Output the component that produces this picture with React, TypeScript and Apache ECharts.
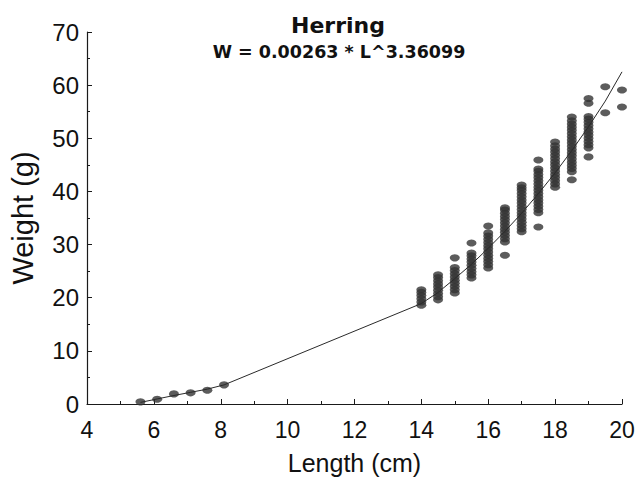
import React, { useEffect, useRef } from "react";
import * as echarts from "echarts";

// Fitted curve points (Length cm, Weight g) as drawn
const fitLengths = [5.6, 6.1, 6.6, 7.1, 7.6, 8.1, 14, 14.5, 15, 15.5, 16, 16.5, 17, 17.5, 18, 18.5, 19, 19.5, 20];
const fitWeights = [0.3, 0.95, 1.6, 2.2, 2.8, 3.6, 18.9, 21.0, 23.6, 26.3, 29.3, 32.5, 35.9, 39.6, 43.5, 47.7, 52.2, 57.0, 62.5];

// Observed fish: small juveniles
const smallLengths = [5.6, 6.1, 6.6, 7.1, 7.6, 8.1];
const smallWeights = [0.4, 0.9, 1.9, 2.1, 2.6, 3.6];

// Observed fish: adult columns by length class
const colLengths = [14, 14.5, 15, 15.5, 16, 16.5, 17, 17.5, 18, 18.5, 19, 19.5, 20];
const col14 = [18.6, 19.2, 19.8, 20.4, 21.0, 21.5];
const col14_5 = [19.6, 20.2, 20.8, 21.4, 22.0, 22.6, 23.2, 23.8, 24.3];
const col15 = [20.9, 21.5, 22.1, 22.7, 23.3, 23.9, 24.5, 25.1, 25.7, 27.5];
const col15_5 = [23.7, 24.3, 24.9, 25.5, 26.1, 26.7, 27.3, 27.9, 28.4, 30.3];
const col16 = [25.6, 26.2, 26.8, 27.4, 28.0, 28.6, 29.2, 29.8, 30.4, 31.0, 31.6, 32.2, 33.5];
const col16_5 = [28.0, 30.5, 31.1, 31.7, 32.3, 32.9, 33.5, 34.1, 34.7, 35.3, 35.9, 36.5, 36.9];
const col17 = [32.4, 33.0, 33.6, 34.2, 34.8, 35.4, 36.0, 36.6, 37.2, 37.8, 38.4, 39.0, 39.6, 40.2, 40.7, 41.2];
const col17_5 = [33.3, 36.0, 36.6, 37.2, 37.8, 38.4, 39.0, 39.6, 40.2, 40.8, 41.4, 42.0, 42.6, 43.2, 43.8, 44.2, 45.9];
const col18 = [40.8, 41.4, 42.0, 42.6, 43.2, 43.8, 44.4, 45.0, 45.6, 46.2, 46.8, 47.4, 48.0, 48.6, 49.3];
const col18_5 = [42.2, 43.7, 44.3, 44.9, 45.5, 46.1, 46.7, 47.3, 47.9, 48.5, 49.1, 49.7, 50.3, 50.9, 51.5, 52.1, 52.7, 53.3, 54.0];
const col19 = [46.5, 48.2, 48.8, 49.4, 50.0, 50.6, 51.2, 51.8, 52.4, 53.0, 53.6, 54.1, 56.6, 57.5];
const col19_5 = [54.8, 59.7];
const col20 = [55.9, 59.1];
const columns = [col14, col14_5, col15, col15_5, col16, col16_5, col17, col17_5, col18, col18_5, col19, col19_5, col20];

const titleText = "Herring";
const formulaText = "W = 0.00263 * L^3.36099";
const xName = "Length (cm)";
const yName = "Weight (g)";

export default function App() {
  const ref = useRef<HTMLDivElement>(null);
  useEffect(() => {
    if (!ref.current) return;
    const chart = echarts.init(ref.current, undefined, { renderer: "svg" });
    const scatterData: number[][] = [];
    smallLengths.forEach((l, i) => scatterData.push([l, smallWeights[i]]));
    colLengths.forEach((l, i) => columns[i].forEach((w) => scatterData.push([l, w])));
    const lineData = fitLengths.map((l, i) => [l, fitWeights[i]]);
    const axisColor = "#1a1a1a";
    chart.setOption({
      animation: false,
      backgroundColor: "#ffffff",
      title: [
        {
          text: titleText,
          left: 333,
          top: 9,
          textAlign: "center",
          textStyle: { fontFamily: "DejaVu Sans", fontWeight: "bold", fontSize: 22, color: "#111" },
        },
        {
          text: formulaText,
          left: 334,
          top: 38,
          textAlign: "center",
          textStyle: { fontFamily: "DejaVu Sans", fontWeight: "bold", fontSize: 17.5, color: "#111" },
        },
      ],
      grid: { left: 84, top: 32, width: 538, height: 372 },
      xAxis: {
        type: "value",
        min: 4,
        max: 20,
        interval: 2,
        name: xName,
        nameLocation: "middle",
        nameGap: 46,
        nameTextStyle: { fontFamily: "Liberation Sans", fontSize: 25, color: "#111" },
        axisLine: { show: true, onZero: false, lineStyle: { color: axisColor, width: 1.2 } },
        axisTick: { show: true, inside: true, length: 5, lineStyle: { color: axisColor } },
        minorTick: { show: true, splitNumber: 2, length: 3, lineStyle: { color: axisColor } },
        splitLine: { show: false },
        axisLabel: { margin: 14, fontFamily: "Liberation Sans", fontSize: 23, color: "#111" },
      },
      yAxis: {
        type: "value",
        min: 0,
        max: 70,
        interval: 10,
        name: yName,
        nameLocation: "middle",
        nameGap: 50,
        nameRotate: 90,
        nameTextStyle: { fontFamily: "Liberation Sans", fontSize: 29, color: "#111" },
        axisLine: { show: true, onZero: false, lineStyle: { color: axisColor, width: 1.2 } },
        axisTick: { show: true, inside: true, length: 5, lineStyle: { color: axisColor } },
        minorTick: { show: true, splitNumber: 2, length: 3, lineStyle: { color: axisColor } },
        splitLine: { show: false },
        axisLabel: { margin: 8, fontFamily: "Liberation Sans", fontSize: 24, color: "#111" },
      },
      series: [
        {
          type: "scatter",
          data: scatterData,
          symbol: "circle",
          symbolSize: [10, 7],
          itemStyle: { color: "#333333" },
          z: 2,
        },
        {
          type: "line",
          data: lineData,
          showSymbol: false,
          symbol: "none",
          lineStyle: { color: "#2a2a2a", width: 1 },
          z: 3,
        },
      ],
    });
    return () => chart.dispose();
  }, []);
  return (
    <div
      ref={ref}
      style={{ position: "fixed", left: 0, top: 0, width: 639, height: 482, background: "#fff" }}
    />
  );
}
